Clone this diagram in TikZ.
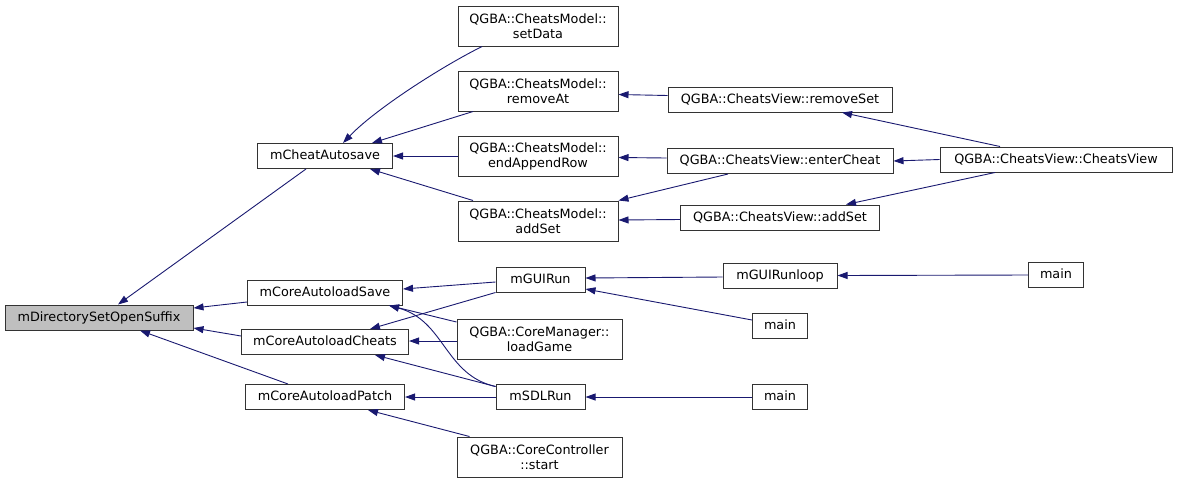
\documentclass[tikz,border=0pt]{standalone}
\usepackage{fontspec}
\setmainfont{DejaVu Sans}
\usetikzlibrary{arrows.meta,calc}
\definecolor{edgecol}{HTML}{191970}
\begin{document}
\begin{tikzpicture}[x=1pt,y=-1pt,
  font=\fontsize{12.8}{15}\selectfont,
  base/.style={draw=black!80, line width=1pt, fill=white, inner sep=0pt, align=center},
  box/.style={base, minimum height=25pt, text height=9.6pt, text depth=2.6pt},
  tall/.style={base, minimum height=40pt},
  edge/.style={draw=edgecol, line width=0.9pt, -{Triangle[length=10pt,width=7pt]}}]
\useasboundingbox (0,0) rectangle (1177,483);

% column 0
\node[box, fill=black!25, minimum width=188pt] (dir) at (99,317.5) {mDirectorySetOpenSuffix};
% column 1
\node[box, minimum width=135pt] (cheat) at (325,156) {mCheatAutosave};
\node[box, minimum width=155pt] (save) at (325,292.5) {mCoreAutoloadSave};
\node[box, minimum width=167pt] (cheats) at (325,342) {mCoreAutoloadCheats};
\node[box, minimum width=159pt] (patch) at (325,397) {mCoreAutoloadPatch};
% column 2
\node[tall, minimum width=160pt] (setdata) at (538,26) {QGBA::CheatsModel::\\setData};
\node[tall, minimum width=160pt] (removeat) at (538,91) {QGBA::CheatsModel::\\removeAt};
\node[tall, minimum width=160pt] (endappend) at (538,156) {QGBA::CheatsModel::\\endAppendRow};
\node[tall, minimum width=160pt] (maddset) at (538,221) {QGBA::CheatsModel::\\addSet};
\node[box, minimum width=89pt] (guirun) at (540.5,279.5) {mGUIRun};
\node[tall, minimum width=165pt] (loadgame) at (539.5,339) {QGBA::CoreManager::\\loadGame};
\node[box, minimum width=89pt] (sdlrun) at (540.5,397) {mSDLRun};
\node[tall, minimum width=165pt] (start) at (539.5,457) {QGBA::CoreController\\::start};
% column 3
\node[box, minimum width=224pt] (removeset) at (780,99.5) {QGBA::CheatsView::removeSet};
\node[box, minimum width=226pt] (entercheat) at (780,161) {QGBA::CheatsView::enterCheat};
\node[box, minimum width=199pt] (vaddset) at (780,217.5) {QGBA::CheatsView::addSet};
\node[box, minimum width=114pt] (runloop) at (780,275.5) {mGUIRunloop};
\node[box, minimum width=55pt] (main2) at (780,325.5) {main};
\node[box, minimum width=55pt] (main3) at (780,397) {main};
% column 4
\node[box, minimum width=232pt] (cheatsview) at (1056,159.5) {QGBA::CheatsView::CheatsView};
\node[box, minimum width=55pt] (main1) at (1056,275) {main};

% edges into mDirectorySetOpenSuffix
\draw[edge] ($(cheat.south)+(-19,0)$) -- ($(dir.north)+(19,0)$);
\draw[edge] ($(save.west)+(0,9.5)$) -- ($(dir.east)+(0,-9.5)$);
\draw[edge] ($(cheats.west)+(0,-6)$) -- ($(dir.east)+(0,10.5)$);
\draw[edge] ($(patch.north)+(-37,0)$) -- ($(dir.south)+(41,0)$);

% edges into mCheatAutosave
\draw[edge] ($(setdata.south)+(-56,0)$) .. controls ($(setdata.south)+(-98,21)$) and ($(cheat.north)+(50,-33.5)$) .. ($(cheat.north)+(18,0)$);
\draw[edge] ($(removeat.south)+(-65,0)$) -- ($(cheat.north)+(47,0)$);
\draw[edge] (endappend.west) -- (cheat.east);
\draw[edge] ($(maddset.north)+(-65,0)$) -- ($(cheat.south)+(45,0)$);

% CheatsModel callers
\draw[edge] ($(removeset.west)+(0,-4)$) -- ($(removeat.east)+(0,3.5)$);
\draw[edge] ($(entercheat.west)+(0,-3)$) -- ($(endappend.east)+(0,1.5)$);
\draw[edge] ($(entercheat.south)+(-52,0)$) -- (maddset.north east);
\draw[edge] ($(vaddset.west)+(0,2)$) -- ($(maddset.east)+(0,-1)$);

% CheatsView callers
\draw[edge] ($(cheatsview.north)+(-56,0)$) -- ($(removeset.south)+(62,0)$);
\draw[edge] (cheatsview.west) -- (entercheat.east);
\draw[edge] ($(cheatsview.south)+(-61,0)$) -- ($(vaddset.north)+(66,0)$);

% autoload callers
\draw[edge] ($(guirun.west)+(0,2.5)$) -- ($(save.east)+(0,-3.5)$);
\draw[edge] (guirun.south west) -- ($(cheats.north)+(45,0)$);
\draw[edge] ($(loadgame.west)+(0,-17)$) -- ($(save.south)+(64,0)$);
\draw[edge] ($(loadgame.west)+(0,2)$) -- ($(cheats.east)+(0,-1)$);
\draw[edge] ($(sdlrun.west)+(0,-10.5)$) .. controls ($(sdlrun.west)+(-51,-22)$) and ($(save.south)+(120,15)$) .. ($(save.south)+(64,0)$);
\draw[edge] ($(sdlrun.west)+(0,-10.5)$) -- ($(cheats.south)+(50,0)$);
\draw[edge] (sdlrun.west) -- (patch.east);
\draw[edge] ($(start.north)+(-70,0)$) -- ($(patch.south)+(43,0)$);

% run callers
\draw[edge] ($(runloop.west)+(0,1.5)$) -- ($(guirun.east)+(0,-1.5)$);
\draw[edge] ($(main2.west)+(0,-5.5)$) -- ($(guirun.east)+(0,9.5)$);
\draw[edge] (main1.west) -- (runloop.east);
\draw[edge] (main3.west) -- (sdlrun.east);
\end{tikzpicture}
\end{document}
